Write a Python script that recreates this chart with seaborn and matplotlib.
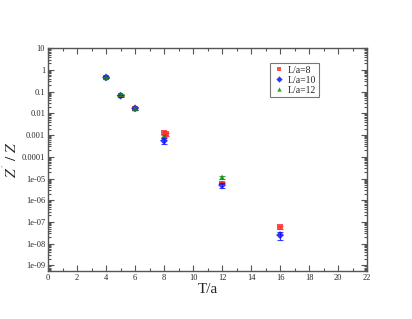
import numpy as np
import pandas as pd
import seaborn as sns
import matplotlib.pyplot as plt
from matplotlib.ticker import MultipleLocator, LogLocator, FixedLocator

# data
t_l8 = [4, 5, 6, 8, 8.15, 12, 16]
z_l8 = [0.45, 0.066, 0.017, 0.0013, 0.0011, 6.0e-6, 5.8e-8]
e_l8 = [0.03, 0.005, 0.002, 0.0002, 0.0002, 1.0e-6, 1.0e-8]

t_l10 = [4, 5, 6, 8, 12, 16]
z_l10 = [0.45, 0.065, 0.017, 0.00055, 5.0e-6, 2.5e-8]
e_l10 = [0.03, 0.006, 0.003, 0.00015, 1.2e-6, 1.0e-8]

t_l12 = [4, 5, 6, 8, 12]
z_l12 = [0.45, 0.07, 0.017, 0.0009, 1.15e-5]
e_l12 = [0.03, 0.006, 0.002, 0.0001, 2.0e-6]

labels = ["L/a=8", "L/a=10", "L/a=12"]
colors = {"L/a=8": "#ff3030", "L/a=10": "#1010ff", "L/a=12": "#109010"}
markers = {"L/a=8": "s", "L/a=10": "D", "L/a=12": "^"}

x_ticks = list(range(0, 23, 2))
y_ticks = [10.0 ** k for k in range(1, -10, -1)]
y_tick_labels = ["10", "1", "0.1", "0.01", "0.001", "0.0001", "1e-05",
                 "1e-06", "1e-07", "1e-08", "1e-09"]


def build_frame():
    frames = []
    for lab, t, z, e in zip(labels, [t_l8, t_l10, t_l12],
                            [z_l8, z_l10, z_l12], [e_l8, e_l10, e_l12]):
        frames.append(pd.DataFrame({"T": t, "Z": z, "err": e, "L": lab}))
    return pd.concat(frames, ignore_index=True)


def main():
    df = build_frame()
    sns.set_style("ticks")
    plt.rcParams["font.family"] = ["Liberation Serif", "DejaVu Serif"]
    plt.rcParams["mathtext.fontset"] = "stix"

    fig = plt.figure(figsize=(4.12, 3.19), dpi=100)
    ax = fig.add_axes([0.1165, 0.150, 0.7745, 0.699])

    for lab in labels:
        sub = df[df["L"] == lab]
        ax.errorbar(sub["T"], sub["Z"], yerr=sub["err"], fmt="none",
                    ecolor=colors[lab], elinewidth=0.8, capsize=2.5,
                    capthick=0.8, alpha=0.8)

    sns.scatterplot(data=df, x="T", y="Z", hue="L", style="L",
                    palette=colors, markers=markers, s=16, linewidth=0,
                    alpha=0.85, ax=ax, legend=True)

    ax.set_yscale("log")
    ax.set_xlim(0, 22)
    ax.set_ylim(10 ** -9.26, 10)
    ax.xaxis.set_major_locator(FixedLocator(x_ticks))
    ax.xaxis.set_minor_locator(MultipleLocator(1))
    ax.yaxis.set_major_locator(FixedLocator(y_ticks))
    ax.set_yticklabels(y_tick_labels)
    ax.yaxis.set_minor_locator(LogLocator(base=10, subs=np.arange(2, 10), numticks=30))
    ax.tick_params(which="both", direction="in", top=True, right=True,
                   labelsize=6, width=0.8, color="#555555", pad=2)
    ax.tick_params(which="major", length=4)
    ax.tick_params(which="minor", length=2)
    for s in ax.spines.values():
        s.set_color("#555555")
        s.set_linewidth(1.0)

    ax.set_xlabel("T/a", fontsize=11, labelpad=1)
    ax.set_ylabel(r"$Z^{'}\ /\ Z$", fontsize=11, labelpad=1)

    leg = ax.legend(title=None, loc="upper left", bbox_to_anchor=(0.696, 0.935),
                    borderaxespad=0, fontsize=7, frameon=True, fancybox=False,
                    handletextpad=0.3, borderpad=0.3, labelspacing=0.1,
                    markerscale=0.8, handlelength=1.2)
    leg.get_frame().set_edgecolor("#555555")
    leg.get_frame().set_linewidth(0.8)

    fig.savefig("out.png", dpi=100)


if __name__ == "__main__":
    main()
